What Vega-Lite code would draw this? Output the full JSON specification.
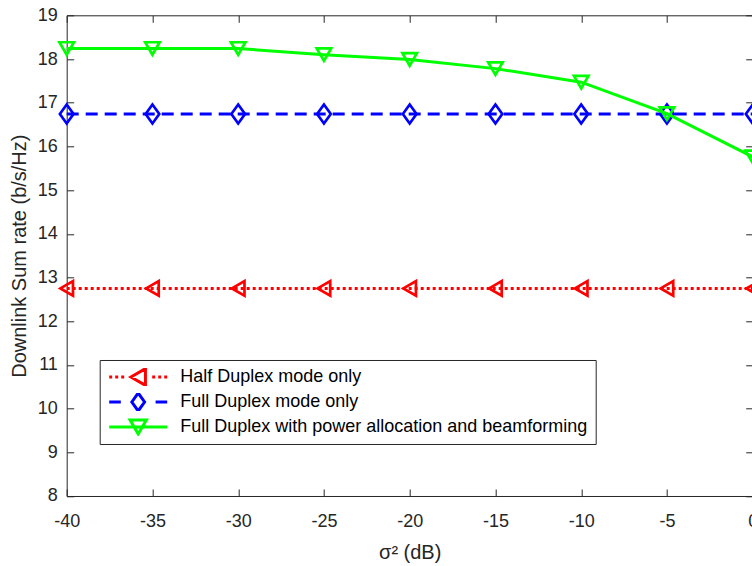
{
  "$schema": "https://vega.github.io/schema/vega-lite/v6.json",
  "width": 686,
  "height": 480.7,
  "autosize": "none",
  "padding": {"left": 66.7, "top": 15.3, "right": 0, "bottom": 70},
  "background": "white",
  "config": {"view": {"stroke": null}, "font": "Liberation Sans"},
  "data": {"values": [
    {"x": -40, "y": 12.75, "series": "Half Duplex mode only"},
    {"x": -35, "y": 12.75, "series": "Half Duplex mode only"},
    {"x": -30, "y": 12.75, "series": "Half Duplex mode only"},
    {"x": -25, "y": 12.75, "series": "Half Duplex mode only"},
    {"x": -20, "y": 12.75, "series": "Half Duplex mode only"},
    {"x": -15, "y": 12.75, "series": "Half Duplex mode only"},
    {"x": -10, "y": 12.75, "series": "Half Duplex mode only"},
    {"x": -5, "y": 12.75, "series": "Half Duplex mode only"},
    {"x": 0, "y": 12.75, "series": "Half Duplex mode only"},
    {"x": -40, "y": 16.74, "series": "Full Duplex mode only"},
    {"x": -35, "y": 16.74, "series": "Full Duplex mode only"},
    {"x": -30, "y": 16.74, "series": "Full Duplex mode only"},
    {"x": -25, "y": 16.74, "series": "Full Duplex mode only"},
    {"x": -20, "y": 16.74, "series": "Full Duplex mode only"},
    {"x": -15, "y": 16.74, "series": "Full Duplex mode only"},
    {"x": -10, "y": 16.74, "series": "Full Duplex mode only"},
    {"x": -5, "y": 16.74, "series": "Full Duplex mode only"},
    {"x": 0, "y": 16.74, "series": "Full Duplex mode only"},
    {"x": -40, "y": 18.24, "series": "Full Duplex with power allocation and beamforming"},
    {"x": -35, "y": 18.24, "series": "Full Duplex with power allocation and beamforming"},
    {"x": -30, "y": 18.24, "series": "Full Duplex with power allocation and beamforming"},
    {"x": -25, "y": 18.1, "series": "Full Duplex with power allocation and beamforming"},
    {"x": -20, "y": 17.99, "series": "Full Duplex with power allocation and beamforming"},
    {"x": -15, "y": 17.78, "series": "Full Duplex with power allocation and beamforming"},
    {"x": -10, "y": 17.47, "series": "Full Duplex with power allocation and beamforming"},
    {"x": -5, "y": 16.75, "series": "Full Duplex with power allocation and beamforming"},
    {"x": 0, "y": 15.76, "series": "Full Duplex with power allocation and beamforming"}
  ]},
  "layer": [
    {
      "encoding": {
        "x": {"field": "x", "type": "quantitative",
          "scale": {"domain": [-40, 0], "nice": false, "zero": false},
          "axis": {"orient": "bottom", "values": [-40, -35, -30, -25, -20, -15, -10, -5, 0],
            "labelExpr": "datum.value < 0 ? '-' + abs(datum.value) : '' + datum.value",
            "grid": false, "tickSize": -7, "labelPadding": 23.6, "labelFlush": false, "labelOverlap": false,
            "labelFont": "Liberation Sans", "labelFontSize": 18, "labelColor": "#262626",
            "domainColor": "#262626", "tickColor": "#262626", "domainWidth": 1, "tickWidth": 1,
            "title": "σ² (dB)", "titleFont": "Liberation Sans", "titleFontSize": 20, "titleFontWeight": "normal",
            "titleColor": "#262626", "titleY": 63, "titleBaseline": "alphabetic"}},
        "y": {"field": "y", "type": "quantitative",
          "scale": {"domain": [8, 19], "nice": false, "zero": false},
          "axis": {"orient": "left", "values": [8, 9, 10, 11, 12, 13, 14, 15, 16, 17, 18, 19],
            "grid": false, "tickSize": -7, "labelPadding": 16.4, "labelFlush": false, "labelOverlap": false,
            "labelFont": "Liberation Sans", "labelFontSize": 18, "labelColor": "#262626",
            "domainColor": "#262626", "tickColor": "#262626", "domainWidth": 1, "tickWidth": 1,
            "title": "Downlink Sum rate (b/s/Hz)", "titleFont": "Liberation Sans", "titleFontSize": 20,
            "titleFontWeight": "normal", "titleColor": "#262626", "titleX": -41.5, "titleBaseline": "alphabetic"}}
      },
      "layer": [
        {"transform": [{"filter": {"field": "series", "equal": "Half Duplex mode only"}}],
         "mark": {"type": "line", "color": "#FF0000", "strokeWidth": 3, "strokeDash": [3, 3]}},
        {"transform": [{"filter": {"field": "series", "equal": "Half Duplex mode only"}}],
         "mark": {"type": "point", "shape": "triangle-left", "size": 210, "filled": false, "opacity": 1, "color": "#FF0000", "strokeWidth": 2.7}},
        {"transform": [{"filter": {"field": "series", "equal": "Full Duplex mode only"}}],
         "mark": {"type": "line", "color": "#0000FF", "strokeWidth": 3, "strokeDash": [12, 7]}},
        {"transform": [{"filter": {"field": "series", "equal": "Full Duplex mode only"}}],
         "mark": {"type": "point", "shape": "M-0.72,0L0,-1L0.72,0L0,1Z", "size": 360, "filled": false, "opacity": 1, "color": "#0000FF", "strokeWidth": 2.7}},
        {"transform": [{"filter": {"field": "series", "equal": "Full Duplex with power allocation and beamforming"}}],
         "mark": {"type": "line", "color": "#00FF00", "strokeWidth": 3}},
        {"transform": [{"filter": {"field": "series", "equal": "Full Duplex with power allocation and beamforming"}}],
         "mark": {"type": "point", "shape": "triangle-down", "size": 210, "filled": false, "opacity": 1, "color": "#00FF00", "strokeWidth": 2.7}}
      ]
    },
    {
      "transform": [{"filter": "false"}],
      "mark": {"type": "point", "filled": false, "opacity": 1, "size": 3364, "strokeWidth": 3},
      "encoding": {
        "x": {"field": "x", "type": "quantitative",
          "scale": {"domain": [-40, 0], "nice": false, "zero": false},
          "axis": {"orient": "top", "values": [-40, -35, -30, -25, -20, -15, -10, -5, 0], "labels": false,
            "grid": false, "tickSize": -7, "domainColor": "#262626", "tickColor": "#262626", "title": null}},
        "y": {"field": "y", "type": "quantitative",
          "scale": {"domain": [8, 19], "nice": false, "zero": false},
          "axis": {"orient": "right", "values": [8, 9, 10, 11, 12, 13, 14, 15, 16, 17, 18, 19], "labels": false,
            "grid": false, "tickSize": -7, "domainColor": "#262626", "tickColor": "#262626", "title": null}},
        "color": {"field": "series", "type": "nominal",
          "scale": {"domain": ["Half Duplex mode only", "Full Duplex mode only", "Full Duplex with power allocation and beamforming"],
                    "range": ["#FF0000", "#0000FF", "#00FF00"]},
          "legend": {"orient": "none", "legendX": 33, "legendY": 344.7, "title": null,
            "padding": 8, "rowPadding": 7, "clipHeight": 18, "labelOffset": 11.6,
            "labelFont": "Liberation Sans", "labelFontSize": 18, "labelColor": "#000000", "labelLimit": 700,
            "strokeColor": "#262626", "fillColor": "#FFFFFF", "symbolStrokeWidth": 3, "symbolSize": 3364,
            "symbolOpacity": 1, "symbolFillColor": "transparent"}},
        "shape": {"field": "series", "type": "nominal",
          "scale": {"domain": ["Half Duplex mode only", "Full Duplex mode only", "Full Duplex with power allocation and beamforming"],
                    "range": [
                      "M-1,0L-0.897,0M-0.793,0L-0.69,0M-0.586,0L-0.483,0M0.483,0L0.586,0M0.69,0L0.793,0M0.897,0L1,0M-0.25,0L0.25,-0.29L0.25,0.29Z",
                      "M-1,0L-0.6,0M0.6,0L1,0M-0.22,0L0,-0.31L0.22,0L0,0.31Z",
                      "M-1,0L1,0M0,0.24L-0.28,-0.24L0.28,-0.24Z"
                    ]},
          "legend": {"orient": "none", "legendX": 33, "legendY": 344.7, "title": null,
            "padding": 8, "rowPadding": 7, "clipHeight": 18, "labelOffset": 11.6,
            "labelFont": "Liberation Sans", "labelFontSize": 18, "labelColor": "#000000", "labelLimit": 700,
            "strokeColor": "#262626", "fillColor": "#FFFFFF", "symbolStrokeWidth": 3, "symbolSize": 3364,
            "symbolOpacity": 1, "symbolFillColor": "transparent"}}
      }
    }
  ],
  "resolve": {"scale": {"x": "independent", "y": "independent"}, "axis": {"x": "independent", "y": "independent"}}
}
